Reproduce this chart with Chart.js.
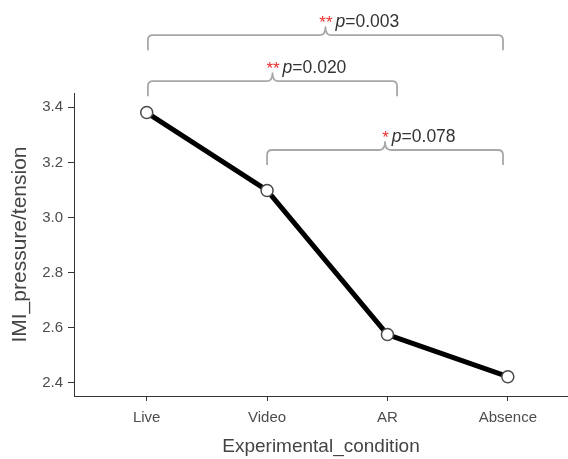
<!DOCTYPE html>
<html>
<head>
<meta charset="utf-8">
<script src="https://cdn.jsdelivr.net/npm/chart.js@4.4.1/dist/chart.umd.min.js"></script>
<style>
  html, body { margin: 0; padding: 0; background: #fff; overflow: hidden; }
  #wrap { width: 568px; height: 459px; position: relative; }
</style>
</head>
<body>
<div id="wrap"><canvas id="chart" width="568" height="459"></canvas></div>
<script>
  const categories = ["Live", "Video", "AR", "Absence"];
  const imiValues = [3.381, 3.098, 2.575, 2.422];
  const yTicks = [2.4, 2.6, 2.8, 3.0, 3.2, 3.4];

  // pairwise comparisons drawn as brackets above the plot
  // (bracket ends given in category units, level in y units)
  const compStart = [0.01, 0.01, 1.0];
  const compEnd = [2.96, 2.08, 2.96];
  const compLevels = [3.662, 3.495, 3.245];
  const compStars = ["**", "**", "*"];
  const compP = ["0.003", "0.020", "0.078"];

  const FONT = "'Liberation Sans', Arial, sans-serif";

  const bracketPlugin = {
    id: "brackets",
    afterDraw(chart) {
      const { ctx } = chart;
      const xs = chart.scales.x;
      const ys = chart.scales.y;
      ctx.save();
      compLevels.forEach((level, i) => {
        const x1 = xs.getPixelForValue(compStart[i]);
        const x2 = xs.getPixelForValue(compEnd[i]);
        const y = ys.getPixelForValue(level);
        const mid = (x1 + x2) / 2;
        const drop = 15, r = 5, tipH = 8, tipW = 6;

        ctx.strokeStyle = "#a8a8a8";
        ctx.lineWidth = 1.8;
        ctx.lineJoin = "round";
        ctx.beginPath();
        ctx.moveTo(x1, y + drop);
        ctx.lineTo(x1, y + r);
        ctx.quadraticCurveTo(x1, y, x1 + r, y);
        ctx.lineTo(mid - tipW, y);
        ctx.quadraticCurveTo(mid, y, mid, y - tipH);
        ctx.quadraticCurveTo(mid, y, mid + tipW, y);
        ctx.lineTo(x2 - r, y);
        ctx.quadraticCurveTo(x2, y, x2, y + r);
        ctx.lineTo(x2, y + drop);
        ctx.stroke();

        // label: red stars + italic p + value
        ctx.textBaseline = "alphabetic";
        ctx.font = "17px " + FONT;
        const starW = ctx.measureText(compStars[i]).width;
        let tx = mid - starW / 2 + 0.5;
        const ty = y - 8;
        ctx.fillStyle = "#e8312f";
        ctx.fillText(compStars[i], tx, ty + 1);
        tx += starW + 3;
        ctx.fillStyle = "#333";
        ctx.font = "italic 17.5px " + FONT;
        ctx.fillText("p", tx, ty);
        tx += ctx.measureText("p").width;
        ctx.font = "17.5px " + FONT;
        ctx.fillText("=" + compP[i], tx, ty);
      });
      ctx.restore();
    },
  };

  new Chart(document.getElementById("chart").getContext("2d"), {
    type: "line",
    data: {
      datasets: [
        {
          data: imiValues.map((v, i) => ({ x: i, y: v })),
          borderColor: "#000",
          borderWidth: 5,
          pointRadius: 6,
          pointBackgroundColor: "#fff",
          pointBorderColor: "#4a4a4a",
          pointBorderWidth: 1.5,
          tension: 0,
        },
      ],
    },
    options: {
      responsive: false,
      animation: false,
      events: [],
      layout: { autoPadding: false, padding: { top: 93, left: 0, right: 0, bottom: 0 } },
      plugins: { legend: { display: false }, tooltip: { enabled: false } },
      scales: {
        x: {
          type: "linear",
          min: -0.604,
          max: 3.5,
          afterBuildTicks: (s) => { s.ticks = categories.map((_, i) => ({ value: i })); },
          afterFit: (s) => { s.height = 63; s.paddingLeft = 0; s.paddingRight = 0; },
          ticks: {
            callback: (v) => categories[v],
            color: "#4d4d4d",
            font: { family: FONT, size: 15 },
            padding: 8,
            maxRotation: 0,
            autoSkip: false,
          },
          grid: { drawOnChartArea: false, drawTicks: true, tickLength: 5, color: "#333", lineWidth: 1 },
          border: { color: "#333", width: 1 },
          title: {
            display: true,
            text: "Experimental_condition",
            color: "#444",
            font: { family: FONT, size: 19 },
            padding: { top: 0, bottom: 1 },
          },
        },
        y: {
          min: 2.352,
          max: 3.452,
          afterBuildTicks: (s) => { s.ticks = yTicks.map((v) => ({ value: v })); },
          afterFit: (s) => { s.width = 74; },
          ticks: {
            callback: (v) => v.toFixed(1),
            color: "#4d4d4d",
            font: { family: FONT, size: 15 },
            padding: 5,
          },
          grid: { drawOnChartArea: false, drawTicks: true, tickLength: 6, color: "#333", lineWidth: 1 },
          border: { color: "#333", width: 1 },
          title: {
            display: true,
            text: "IMI_pressure/tension",
            color: "#444",
            font: { family: FONT, size: 21 },
            padding: { top: 8, bottom: 0 },
          },
        },
      },
    },
    plugins: [bracketPlugin],
  });
</script>
</body>
</html>
